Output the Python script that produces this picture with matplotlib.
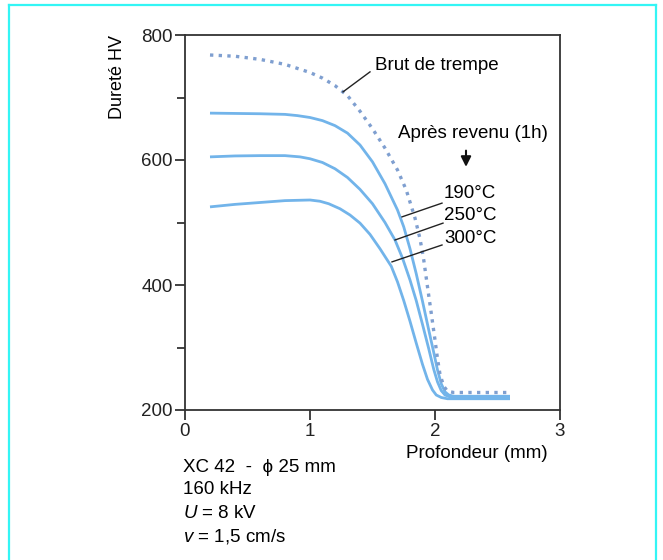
import matplotlib
matplotlib.use("Agg")
import matplotlib.pyplot as plt
from matplotlib.lines import Line2D

plt.rcParams['font.family'] = ['Liberation Sans', 'DejaVu Sans']
plt.rcParams['mathtext.fontset'] = 'custom'
plt.rcParams['mathtext.it'] = 'Liberation Sans:italic'
plt.rcParams['mathtext.rm'] = 'Liberation Sans'

# Data (depth in mm, hardness HV)
brut_x = [0.2, 0.4, 0.6, 0.8, 1.0, 1.1, 1.2, 1.3, 1.4, 1.5, 1.6, 1.7, 1.77, 1.84, 1.88, 1.91, 1.94, 1.97, 2.0, 2.02, 2.04, 2.07, 2.1, 2.15, 2.6]
brut_y = [768, 766, 761, 753, 740, 731, 719, 703, 678, 650, 619, 584, 552, 507, 474, 440, 397, 355, 312, 282, 257, 238, 230, 228, 228]

t190_x = [0.2, 0.4, 0.6, 0.8, 0.9, 1.0, 1.1, 1.2, 1.3, 1.4, 1.5, 1.6, 1.7, 1.75, 1.8, 1.85, 1.9, 1.95, 1.99, 2.02, 2.05, 2.08, 2.11, 2.15, 2.6]
t190_y = [675, 674.5, 674, 673, 671, 668, 663, 655, 643, 624, 597, 562, 520, 493, 458, 418, 374, 328, 292, 264, 242, 229, 224, 222, 222]

t250_x = [0.2, 0.4, 0.6, 0.8, 0.92, 1.0, 1.1, 1.2, 1.3, 1.4, 1.5, 1.6, 1.68, 1.74, 1.8, 1.85, 1.9, 1.95, 1.99, 2.02, 2.05, 2.08, 2.12, 2.2, 2.6]
t250_y = [605, 606.5, 607, 607, 605, 602, 596, 586, 572, 553, 530, 500, 472, 443, 408, 375, 337, 298, 265, 245, 231, 224, 221, 220, 220]

t300_x = [0.2, 0.4, 0.6, 0.8, 1.0, 1.08, 1.15, 1.24, 1.32, 1.4, 1.48, 1.56, 1.65, 1.7, 1.75, 1.8, 1.85, 1.9, 1.94, 1.98, 2.01, 2.05, 2.1, 2.6]
t300_y = [525, 529, 532, 535, 536, 534, 530, 522, 512, 499, 481, 458, 430, 405, 375, 342, 307, 273, 249, 232, 224, 220, 218, 218]

temp_labels = ["190°C", "250°C", "300°C"]
x_ticks = [0, 1, 2, 3]
y_ticks = [200, 400, 600, 800]
y_minor = [300, 500, 700]

W, H = 663, 560
fig = plt.figure(figsize=(W / 100, H / 100), dpi=100)
ax = fig.add_axes([185 / W, 1 - 410 / H, (560 - 185) / W, (410 - 35) / H])

solid_c = '#72b4ea'
for xs, ys in [(t190_x, t190_y), (t250_x, t250_y), (t300_x, t300_y)]:
    ax.plot(xs, ys, color=solid_c, lw=2.0, solid_capstyle='butt', solid_joinstyle='round')
ax.plot(brut_x, brut_y, color='#7f9fd0', lw=2.4, linestyle=(0, (1, 1.6)))

ax.set_xlim(0, 3)
ax.set_ylim(200, 800)
ax.set_xticks(x_ticks)
ax.set_xticklabels([str(v) for v in x_ticks])
ax.set_yticks(y_ticks)
ax.set_yticklabels([str(v) for v in y_ticks])
ax.set_yticks(y_minor, minor=True)
ax.tick_params(axis='both', which='major', direction='out', length=7, width=1.3,
               labelsize=13.5, color='#333333', labelcolor='#222222')
ax.tick_params(axis='y', which='minor', direction='out', length=6, width=1.3, color='#333333')
ax.tick_params(axis='x', pad=2)
ax.tick_params(axis='y', pad=2)
for s in ax.spines.values():
    s.set_linewidth(1.3)
    s.set_color('#333333')

fs = 13.5
ax.text(1.52, 752, "Brut de trempe", fontsize=fs, ha='left', va='center')
ax.add_line(Line2D([1.264, 1.48], [709, 741], color='#222222', lw=1.0))

ax.text(2.904, 643, "Après revenu (1h)", fontsize=fs, ha='right', va='center')
ax.annotate("", xy=(2.248, 589), xytext=(2.248, 615),
            arrowprops=dict(arrowstyle='-|>,head_length=0.6,head_width=0.3', color='#111111',
                            lw=1.5, mutation_scale=10, shrinkA=0, shrinkB=0))

lab_y = [547, 512, 475]
for lab, yy in zip(temp_labels, lab_y):
    ax.text(2.49, yy, lab, fontsize=fs, ha='right', va='center')
ax.add_line(Line2D([1.736, 2.056], [509, 531], color='#222222', lw=1.0))
ax.add_line(Line2D([1.68, 2.064], [472, 499], color='#222222', lw=1.0))
ax.add_line(Line2D([1.656, 2.056], [437, 464], color='#222222', lw=1.0))

fig.text(117 / W, 1 - 77 / H, "Dureté HV", rotation=90, fontsize=13, ha='center', va='center')
fig.text(548 / W, 1 - 453 / H, "Profondeur (mm)", fontsize=fs, ha='right', va='center')

lines = ["XC 42  -  ϕ 25 mm", "160 kHz", r"$\mathit{U}$ = 8 kV", r"$\mathit{v}$ = 1,5 cm/s"]
for i, t in enumerate(lines):
    fig.text(183 / W, 1 - (467 + 23 * i) / H, t, fontsize=fs, ha='left', va='center')

# cyan frame
fc = '#33f5f5'
fig.add_artist(Line2D([9 / W, 9 / W], [0, 1 - 5 / H], color=fc, lw=1.6, transform=fig.transFigure))
fig.add_artist(Line2D([9 / W, 656 / W], [1 - 5 / H, 1 - 5 / H], color=fc, lw=1.6, transform=fig.transFigure))
fig.add_artist(Line2D([656 / W, 656 / W], [0, 1 - 5 / H], color=fc, lw=1.6, transform=fig.transFigure))

fig.savefig("out.png", dpi=100)
